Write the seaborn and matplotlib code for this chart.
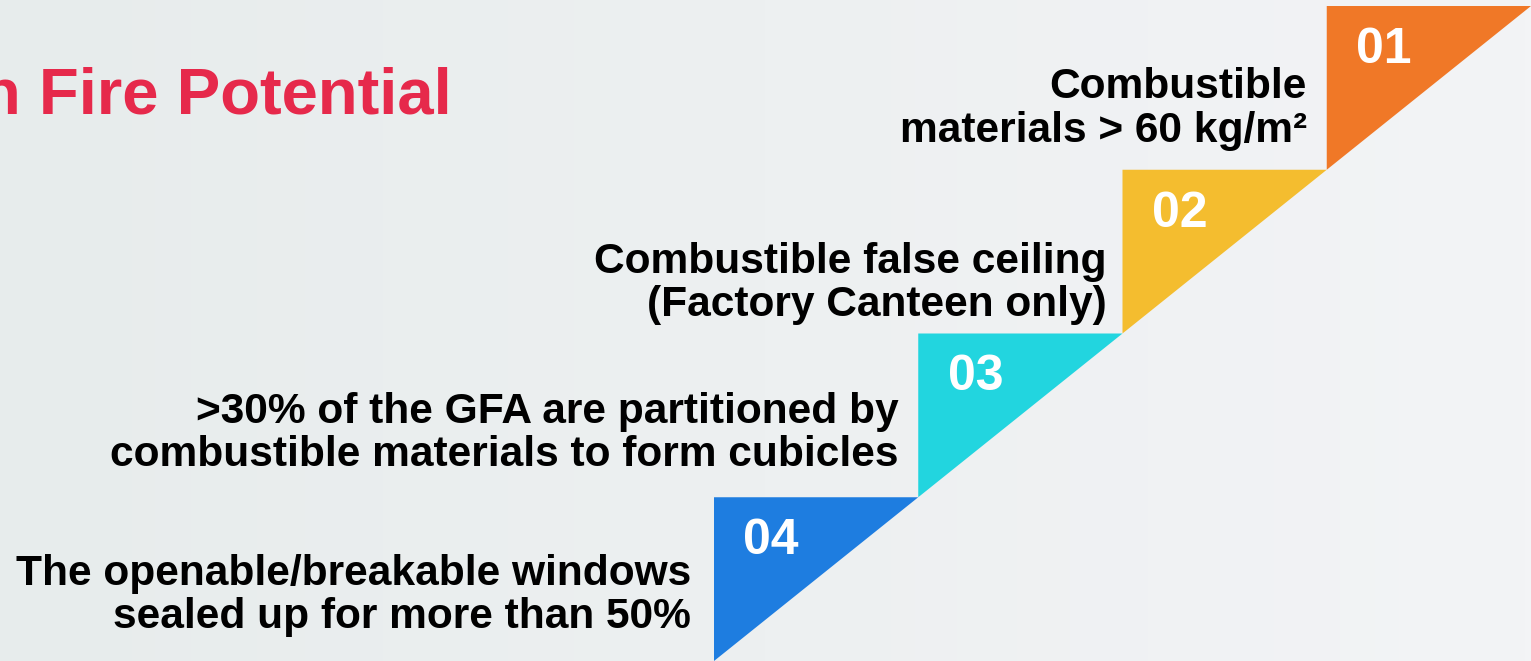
import numpy as np
import matplotlib
matplotlib.use("Agg")
import matplotlib.pyplot as plt
import seaborn as sns

# ---- data ----
step_numbers = ["01", "02", "03", "04"]
step_labels = [
    "Combustible\nmaterials > 60 kg/m²",
    "Combustible false ceiling\n(Factory Canteen only)",
    ">30% of the GFA are partitioned by\ncombustible materials to form cubicles",
    "The openable/breakable windows\nsealed up for more than 50%",
]
step_colors = ["#F07827", "#F4BD2F", "#22D5DF", "#1E7DE0"]
title_text = "n Fire Potential"

sns.set_theme(style="white")
plt.rcParams["font.family"] = ["Liberation Sans", "DejaVu Sans"]

W, H = 1531, 661
fig = plt.figure(figsize=(W / 100, H / 100), dpi=100)
ax = fig.add_axes([0, 0, 1, 1])
ax.set_xlim(0, W)
ax.set_ylim(H, 0)
ax.axis("off")

# background gradient
left = np.array([231, 236, 236]) / 255
right = np.array([243, 244, 246]) / 255
t = np.linspace(0, 1, 256)[None, :, None]
grad = left[None, None, :] * (1 - t) + right[None, None, :] * t
ax.imshow(grad, extent=[0, W, H, 0], aspect="auto", zorder=0)

# staircase geometry (layout)
x_start, y_start = 714, 661   # bottom-left of lowest step
x_end, y_end = 1531, 6        # top-right of highest step
n = len(step_numbers)
dx = (x_end - x_start) / n
dy = (y_start - y_end) / n
label_dy = [103, 114, 100, 98]
label_dx = [-20, -16, -20, -23]

for i, (num, lab, col) in enumerate(zip(step_numbers, step_labels, step_colors)):
    k = n - 1 - i  # step 01 at top
    lx = x_start + k * dx
    top = y_start - (k + 1) * dy
    bottom = y_start - k * dy
    ax.fill([lx, lx + dx, lx], [top, top, bottom], color=col, lw=0, zorder=2)
    ax.text(lx + 57, top + 44, num, color="white", fontsize=36, fontweight="bold",
            ha="center", va="center", zorder=3)
    ax.text(lx + label_dx[i], top + label_dy[i], lab, color="black", fontsize=30.6,
            fontweight="bold", ha="right", va="center", linespacing=1.1, zorder=3)

ax.text(452, 114, title_text, color="#E6294B", fontsize=47, fontweight="bold",
        ha="right", va="baseline", zorder=3)

fig.savefig("out.png", dpi=100)
